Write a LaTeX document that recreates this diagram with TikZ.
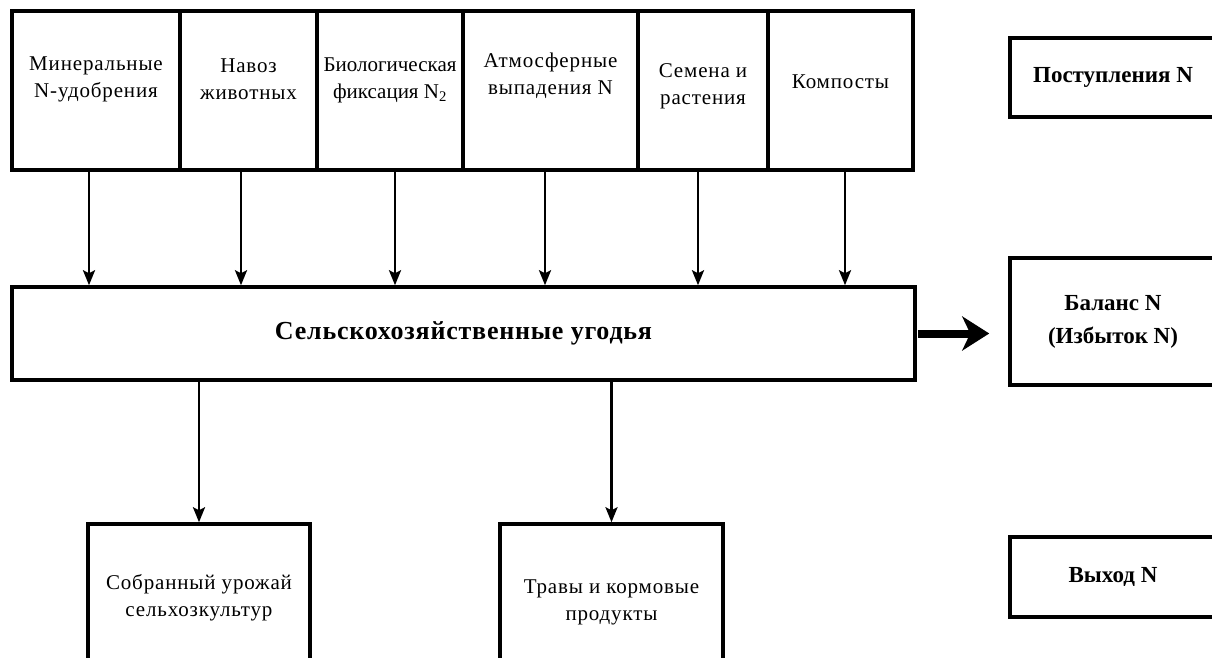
\documentclass[tikz,border=0pt]{standalone}
\usepackage{fontspec}
\setmainfont{Liberation Serif}
\newfontfamily\spaced[LetterSpace=4]{Liberation Serif}
\newfontfamily\wide[LetterSpace=3]{Liberation Serif}
\usetikzlibrary{arrows.meta}
\begin{document}
\begin{tikzpicture}[x=1pt,y=-1pt,
    box/.style={draw,line width=3.5pt,inner sep=0pt},
    txt/.style={align=center,font=\fontsize{21}{27}\selectfont\spaced},
    bold/.style={align=center,font=\fontsize{23}{33}\selectfont\bfseries},
    flow/.style={-{Stealth[length=15pt,width=12pt,inset=3pt]},line width=2.5pt},
    bigflow/.style={-{Stealth[length=27pt,width=34pt,inset=8pt]},line width=8pt}]
  \useasboundingbox (0,0) rectangle (1212,658);
  \clip (0,0) rectangle (1212,658);
  % sources of N
  \draw
    (96,90.5) node[box,minimum width=168pt,minimum height=159pt] (m1){}
    (248.5,90.5) node[box,minimum width=137pt,minimum height=159pt] (m2){}
    (390,90.5) node[box,minimum width=146pt,minimum height=159pt] (m3){}
    (550.5,90.5) node[box,minimum width=175pt,minimum height=159pt] (m4){}
    (703,90.5) node[box,minimum width=130pt,minimum height=159pt] (m5){}
    (840.5,90.5) node[box,minimum width=145pt,minimum height=159pt] (m6){};
  \draw
    (96,79) node[txt] (t1){Минеральные\\N-удобрения}
    (248.5,79) node[txt] (t2){Навоз\\животных}
    (390,80) node[txt,font=\fontsize{21}{27}\selectfont] (t3){Биологическая\\фиксация N\textsubscript{2}}
    (550.5,76) node[txt] (t4){Атмосферные\\выпадения N}
    (703,86) node[txt] (t5){Семена и\\растения}
    (840.5,82) node[txt] (t6){Компосты};
  % farmland
  \draw
    (463.5,333.5) node[box,minimum width=903pt,minimum height=93pt,
      font=\fontsize{26}{30}\selectfont\wide\bfseries] (land){Сельскохозяйственные угодья};
  % outputs
  \draw
    (199,598) node[box,txt,minimum width=222pt,minimum height=148pt] (crop){Собранный урожай\\сельхозкультур}
    (611.5,602) node[box,txt,minimum width=223pt,minimum height=156pt] (feed){Травы и кормовые\\продукты};
  % legend column
  \draw
    (1113,77.5) node[box,bold,minimum width=206pt,minimum height=79pt] (inflow){Поступления N}
    (1113,321.5) node[box,bold,minimum width=206pt,minimum height=127pt] (balance){Баланс N\\(Избыток N)}
    (1113,577) node[box,bold,minimum width=206pt,minimum height=80pt] (outflow){Выход N};
  \begin{scope}
    \foreach \i/\dx in {1/-7,2/-7.5,3/5,4/-5.5,5/-5,6/4.5}
      \draw[flow] ([xshift=\dx pt]m\i.south) -- ([xshift=\dx pt]m\i.south |- land.north);
    \draw[flow] (land.south -| crop.north) -- (crop.north);
    \draw[flow] (land.south -| feed.north) -- (feed.north);
    \draw[bigflow,shorten >=20pt] ([xshift=1pt]land.east) -- ([xshift=1pt]land.east -| balance.west);
  \end{scope}
\end{tikzpicture}
\end{document}
